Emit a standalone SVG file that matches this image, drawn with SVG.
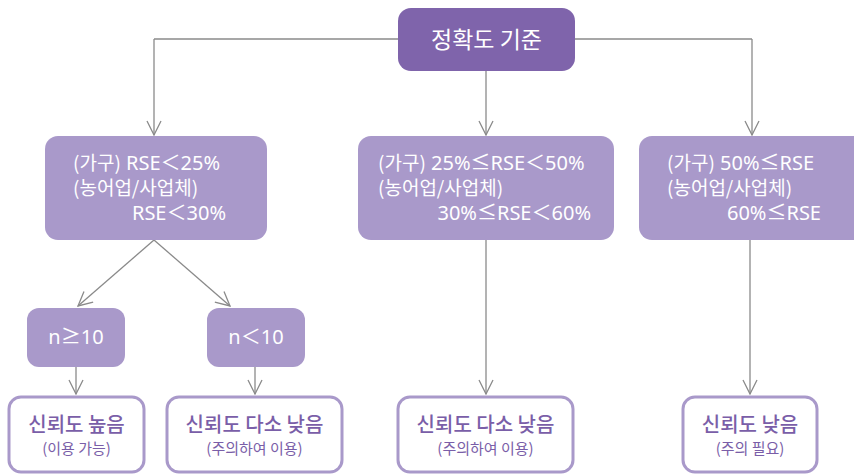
<svg xmlns="http://www.w3.org/2000/svg" width="854" height="475" viewBox="0 0 854 475">
<defs>
<marker id="arr" viewBox="0 0 16 16" refX="15" refY="8" markerWidth="16" markerHeight="16" markerUnits="userSpaceOnUse" orient="auto">
<path d="M1,1 L15,8 L1,15" fill="none" stroke="#8a8a8a" stroke-width="1.3"/>
</marker>
<style>
.con{fill:none;stroke:#8a8a8a;stroke-width:1.3;marker-end:url(#arr)}
.line{fill:none;stroke:#8a8a8a;stroke-width:1.3}
.top{fill:#7f64ab}
.mid{fill:#a999ca}
.out{fill:#fff;stroke:#a999ca;stroke-width:3}
text{font-family:"Noto Sans","Noto Sans CJK KR",sans-serif}
.k{font-family:"Noto Sans CJK KR",sans-serif}
.w{fill:#fff;font-size:20px}
.kl{fill:#fff;font-size:19px;font-family:"Noto Sans CJK KR",sans-serif}
.p1{fill:#7a5ea8;font-size:20px;font-weight:500;text-anchor:middle;font-family:"Noto Sans CJK KR",sans-serif}
.p2{fill:#7a5ea8;font-size:15px;text-anchor:middle;font-family:"Noto Sans CJK KR",sans-serif}
</style>
</defs>
<g id="connectors">
<path class="line" d="M398,39 H154"/>
<path class="con" d="M154,39 V135"/>
<path class="line" d="M575,39 H752"/>
<path class="con" d="M752,39 V135"/>
<path class="con" d="M486,71 V135"/>
<path class="con" d="M154,240 L78,306"/>
<path class="con" d="M154,240 L230,306"/>
<path class="con" d="M76,367 V394"/>
<path class="con" d="M255,367 V394"/>
<path class="con" d="M486,240 V394"/>
<path class="con" d="M750,240 V394"/>
</g>
<g id="root">
<rect class="top" x="398" y="8" width="177" height="63" rx="13"/>
<text x="486.5" y="48" fill="#fff" font-size="23" text-anchor="middle" class="k">정확도 기준</text>
</g>
<g id="high">
<rect class="mid" x="45" y="136" width="222" height="104" rx="13"/>
<text class="w" x="73" y="170"><tspan class="k" font-size="19">(가구)</tspan> RSE<tspan class="k">＜</tspan>25%</text>
<text class="kl" x="73" y="195">(농어업/사업체)</text>
<text class="w" x="226" y="220" text-anchor="end">RSE<tspan class="k">＜</tspan>30%</text>
</g>
<g id="medium">
<rect class="mid" x="358" y="136" width="256" height="104" rx="13"/>
<text class="w" x="378" y="170"><tspan class="k" font-size="19">(가구)</tspan> 25%<tspan class="k">≤</tspan>RSE<tspan class="k">＜</tspan>50%</text>
<text class="kl" x="378" y="195">(농어업/사업체)</text>
<text class="w" x="591" y="220" text-anchor="end">30%<tspan class="k">≤</tspan>RSE<tspan class="k">＜</tspan>60%</text>
</g>
<g id="low">
<rect class="mid" x="639" y="136" width="227" height="104" rx="13"/>
<text class="w" x="667" y="170"><tspan class="k" font-size="19">(가구)</tspan> 50%<tspan class="k">≤</tspan>RSE</text>
<text class="kl" x="667" y="195">(농어업/사업체)</text>
<text class="w" x="821" y="220" text-anchor="end">60%<tspan class="k">≤</tspan>RSE</text>
</g>
<g id="n-ge-10">
<rect class="mid" x="27" y="308" width="98" height="59" rx="12"/>
<text class="w" x="76" y="344" text-anchor="middle">n<tspan class="k">≥</tspan>10</text>
</g>
<g id="n-lt-10">
<rect class="mid" x="207" y="308" width="98" height="59" rx="12"/>
<text class="w" x="256" y="344" text-anchor="middle">n<tspan class="k">＜</tspan>10</text>
</g>
<g id="result-high">
<rect class="out" x="9" y="397" width="135" height="75" rx="12"/>
<text class="p1" x="76.5" y="432">신뢰도 높음</text>
<text class="p2" x="76.5" y="454">(이용 가능)</text>
</g>
<g id="result-mid1">
<rect class="out" x="167" y="397" width="175" height="75" rx="12"/>
<text class="p1" x="254.5" y="432">신뢰도 다소 낮음</text>
<text class="p2" x="254.5" y="454">(주의하여 이용)</text>
</g>
<g id="result-mid2">
<rect class="out" x="398" y="397" width="175" height="75" rx="12"/>
<text class="p1" x="485.5" y="432">신뢰도 다소 낮음</text>
<text class="p2" x="485.5" y="454">(주의하여 이용)</text>
</g>
<g id="result-low">
<rect class="out" x="683" y="397" width="134" height="75" rx="12"/>
<text class="p1" x="750" y="432">신뢰도 낮음</text>
<text class="p2" x="750" y="454">(주의 필요)</text>
</g>
</svg>
